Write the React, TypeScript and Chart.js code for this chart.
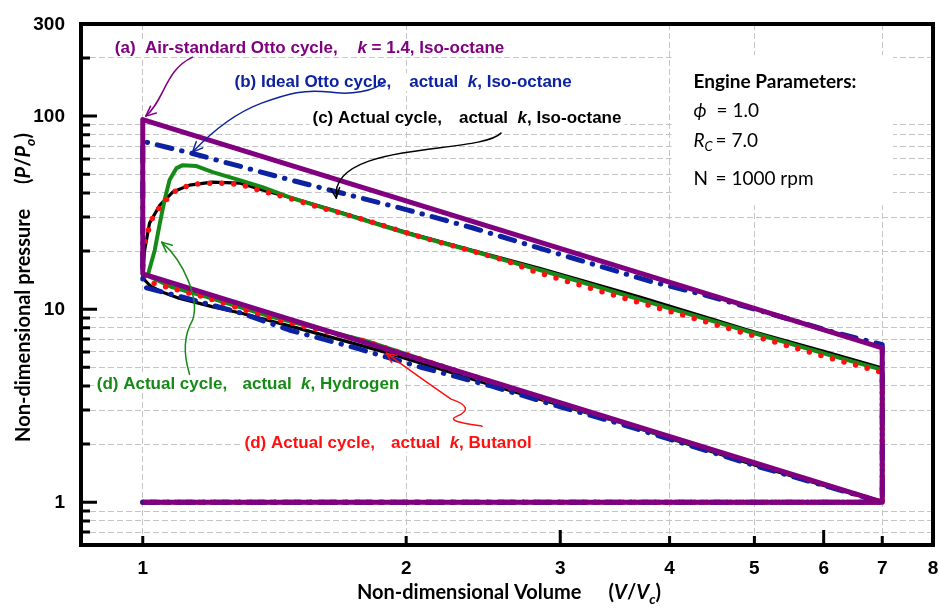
import { useEffect, useRef } from 'react';
import { Chart, registerables } from 'chart.js';

Chart.register(...registerables);

// ---- axes -------------------------------------------------------------
const V_MIN = 0.85;
const V_MAX = 8;
const P_MIN = 0.6;
const P_MAX = 300;

const V_TICKS = [1, 2, 3, 4, 5, 6, 7, 8];
const V_GRID = [1, 2, 4, 5, 7];
const V_MARKS = [1, 2, 3, 4, 5, 6, 7];
const V_LONG_MARKS = [3, 6];

const P_TICKS = [0.7, 0.8, 0.9, 1, 2, 3, 4, 5, 6, 7, 8, 9, 10, 20, 30, 40, 50, 60, 70, 80, 90, 100, 200];
const P_MAJOR = [1, 10, 100];
const P_LABELS = [1, 10, 100, 300];

// ---- cycles (V/Vc, P/Po) ---------------------------------------------
// (a) Air-standard Otto cycle, k = 1.4, iso-octane
const AIR_V = [1, 7, 1, 1, 7, 7, 1];
const AIR_P = [1, 1, 15.24, 96, 6.3, 1, 1];

// (b) Ideal Otto cycle, actual k, iso-octane
const IDEAL_V = [1, 7, 6, 5, 4, 3.5, 3, 2.5, 2.08, 1.75, 1.47, 1.3, 1.13, 1.05, 1.01, 1,
  1, 1.14, 1.3, 1.48, 2, 2.38, 2.81, 3.81, 4.4, 5.2, 6.22, 7, 7, 1];
const IDEAL_P = [1, 1, 1.22, 1.55, 2.12, 2.56, 3.12, 4.0, 5.0, 6.3, 7.8, 9.5, 11.3, 12.3, 12.9, 13.8,
  74, 64, 54.5, 46.5, 32.8, 26.4, 21.0, 13.9, 11.8, 9.5, 7.5, 6.55, 1, 1];

// (c) Actual cycle, actual k, iso-octane
const OCTANE_V = [1, 7, 6, 5, 4, 3.5, 3, 2.5, 2.2, 1.9, 1.7, 1.5, 1.3, 1.2, 1.1, 1.05, 1.02, 1,
  1, 1.005, 1.018, 1.046, 1.082, 1.131, 1.2, 1.29, 1.37, 1.47, 1.65, 2, 2.38, 2.84, 3.69, 5, 6, 7, 7, 1];
const OCTANE_P = [1, 1, 1.22, 1.56, 2.14, 2.6, 3.18, 4.05, 4.85, 5.95, 6.85, 8.0, 9.5, 10.3, 11.4, 12.3, 13.2, 14.5,
  16, 20.2, 27.9, 34.6, 40.4, 43.9, 45.5, 45.0, 41.4, 38.0, 32.6, 25.0, 20.2, 16.3, 11.6, 7.6, 6.05, 4.95, 1, 1];

// (d) Actual cycle, actual k, hydrogen
const H2_V = [1, 7, 6, 5, 4, 3, 2.4, 1.8, 1.4, 1.18, 1.08, 1.013,
  1.032, 1.046, 1.059, 1.073, 1.093, 1.111, 1.152, 1.202, 1.29, 1.37, 1.47, 1.65, 2, 2.38, 3, 4, 5, 6, 7, 7, 1];
const H2_P = [1, 1, 1.24, 1.59, 2.17, 3.24, 4.45, 6.85, 9.15, 11.6, 13.0, 14.9,
  20.2, 27.9, 36.7, 46.6, 53.8, 55.7, 55.1, 51.3, 46.6, 42.9, 38.0, 32.4, 24.8, 20.0, 14.9, 10.1, 7.5, 5.9, 4.85, 1, 1];

// (d) Actual cycle, actual k, butanol
const BUTANOL_V = [1, 7, 6, 5, 4, 3, 2.4, 1.8, 1.4, 1.18, 1.08, 1.03, 1,
  1, 1.01, 1.027, 1.054, 1.093, 1.14, 1.21, 1.29, 1.37, 1.47, 1.6, 1.75, 1.91, 2.08, 2.38, 2.6, 2.81, 3.5, 4, 5, 6, 7, 7, 1];
const BUTANOL_P = [1, 1, 1.23, 1.58, 2.15, 3.2, 4.45, 6.8, 9.0, 11.5, 12.8, 13.6, 15.0,
  20, 24, 30, 35.4, 41.4, 44.4, 45.0, 44.4, 40.8, 37.6, 33.4, 30.0, 26.6, 23.6, 20.0, 17.8, 15.6, 11.6, 9.75, 7.25, 5.7, 4.7, 1, 1];

// ---- colours & fonts --------------------------------------------------
const PURPLE = '#800080';
const BLUE = '#0c22a0';
const GREEN = '#168a16';
const RED = '#ff1010';
const BLACK = '#000000';
const GRID_COLOR = '#c4c4c4';

const SANS = '"Liberation Sans", Arial, sans-serif';
const HUMANIST = 'Lato, "Liberation Sans", sans-serif';

type Run = { t?: string; it?: boolean; sub?: boolean; gap?: number };

// ---- annotations (positions in V/Vc, P/Po) ---------------------------
const CURVE_LABELS: { color: string; p: number; v1: number; g1: string; v2: number; g2: Run[] }[] = [
  { color: PURPLE, p: 225, v1: 0.929, g1: '(a)  Air-standard Otto cycle,', v2: 1.759,
    g2: [{ t: 'k', it: true }, { t: ' = 1.4, Iso-octane' }] },
  { color: BLUE, p: 150, v1: 1.273, g1: '(b) Ideal Otto cycle,', v2: 2.016,
    g2: [{ t: 'actual  ' }, { t: 'k', it: true }, { t: ', Iso-octane' }] },
  { color: BLACK, p: 97, v1: 1.563, g1: '(c) Actual cycle,', v2: 2.298,
    g2: [{ t: 'actual  ' }, { t: 'k', it: true }, { t: ', Iso-octane' }] },
  { color: GREEN, p: 4.09, v1: 0.886, g1: '(d) Actual cycle,', v2: 1.3,
    g2: [{ t: 'actual  ' }, { t: 'k', it: true }, { t: ', Hydrogen' }] },
  { color: RED, p: 2.02, v1: 1.307, g1: '(d) Actual cycle,', v2: 1.922,
    g2: [{ t: 'actual  ' }, { t: 'k', it: true }, { t: ', Butanol' }] },
];

// start point followed by cubic Bezier triples
const ARROWS: { color: string; pts: number[][] }[] = [
  { color: PURPLE, pts: [[1.14, 202], [1.0595, 173.1], [1.0595, 121], [1.008, 100]] },
  { color: BLUE, pts: [[1.893, 151.9], [1.839, 133.2], [1.722, 128.5], [1.634, 133.2],
    [1.53, 138.0], [1.471, 131.6], [1.367, 116.8], [1.273, 103.6], [1.198, 82.6], [1.14, 65.1]] },
  { color: BLACK, pts: [[2.567, 81.6], [2.423, 62.8], [1.634, 75.1], [1.664, 37.6]] },
  { color: GREEN, pts: [[1.131, 4.604], [1.111, 5.986], [1.114, 7.334], [1.14, 8.77],
    [1.1614, 11.13], [1.117, 17.52], [1.051, 22.24]] },
  { color: RED, pts: [[2.442, 2.476], [2.36, 2.536], [2.21, 2.629], [2.287, 2.79],
    [2.36, 2.961], [2.36, 3.181], [2.251, 3.418], [2.125, 4.087], [1.989, 5.067], [1.898, 5.916]] },
];

const ENGINE_BOX_V = [4.02, 7.2];
const ENGINE_BOX_P = [207, 34.6];
const ENGINE_TEXT_V = 4.26;
const ENGINE_LINE_P = [150, 106, 74.2, 47.2];

const X_TITLE: Run[] = [{ t: 'Non-dimensional Volume' }, { gap: 27 }, { t: '(' }, { t: 'V', it: true },
  { t: '/' }, { t: 'V', it: true }, { t: 'c', it: true, sub: true }, { t: ')' }];
const Y_TITLE: Run[] = [{ t: 'Non-dimensional pressure' }, { gap: 25 }, { t: '(' }, { t: 'P', it: true },
  { t: '/' }, { t: 'P', it: true }, { t: 'o', it: true, sub: true }, { t: ')' }];

// ---- text helpers -----------------------------------------------------
function fontFor(r: Run, size: number, weight: string, family: string) {
  const s = r.sub ? Math.round(size * 0.7) : size;
  return `${r.it ? 'italic ' : ''}${weight} ${s}px ${family}`;
}

function runsWidth(ctx: CanvasRenderingContext2D, runs: Run[], size: number, weight: string, family: string) {
  let w = 0;
  for (const r of runs) {
    if (r.gap) { w += r.gap; continue; }
    ctx.font = fontFor(r, size, weight, family);
    w += ctx.measureText(r.t || '').width;
  }
  return w;
}

function drawRuns(ctx: CanvasRenderingContext2D, runs: Run[], x: number, y: number,
  size: number, weight: string, family: string, color: string) {
  let cx = x;
  ctx.fillStyle = color;
  ctx.textAlign = 'left';
  ctx.textBaseline = 'middle';
  for (const r of runs) {
    if (r.gap) { cx += r.gap; continue; }
    ctx.font = fontFor(r, size, weight, family);
    ctx.fillText(r.t || '', cx, r.sub ? y + size * 0.32 : y);
    cx += ctx.measureText(r.t || '').width;
  }
  return cx;
}

const pairs = (vs: number[], ps: number[]) => vs.map((v, i) => ({ x: v, y: ps[i] }));

// ---- decorations: frame, inward ticks, labels, arrows -----------------
const decorPlugin = {
  id: 'pvDecor',
  afterDraw(chart: any) {
    const ctx: CanvasRenderingContext2D = chart.ctx;
    const xs = chart.scales.x;
    const ys = chart.scales.y;
    const X = (v: number) => xs.getPixelForValue(v);
    const Y = (p: number) => ys.getPixelForValue(p);
    const { left, right, top, bottom } = chart.chartArea;

    ctx.save();

    // engine-parameter panel
    ctx.fillStyle = '#ffffff';
    ctx.fillRect(X(ENGINE_BOX_V[0]), Y(ENGINE_BOX_P[0]),
      X(ENGINE_BOX_V[1]) - X(ENGINE_BOX_V[0]), Y(ENGINE_BOX_P[1]) - Y(ENGINE_BOX_P[0]));

    // curve labels on white panels
    for (const L of CURVE_LABELS) {
      const y = Y(L.p);
      const x1 = X(L.v1);
      const x2 = X(L.v2);
      const w2 = runsWidth(ctx, L.g2, 17, 'bold', SANS);
      ctx.fillStyle = '#ffffff';
      ctx.fillRect(x1 - 3, y - 9, x2 + w2 - x1 + 6, 18);
      drawRuns(ctx, [{ t: L.g1 }], x1, y, 17, 'bold', SANS, L.color);
      drawRuns(ctx, L.g2, x2, y, 17, 'bold', SANS, L.color);
    }

    // pointer arrows
    for (const A of ARROWS) {
      const pts = A.pts.map(([v, p]) => [X(v), Y(p)]);
      ctx.strokeStyle = A.color;
      ctx.lineWidth = 1.5;
      ctx.lineCap = 'round';
      ctx.lineJoin = 'round';
      ctx.beginPath();
      ctx.moveTo(pts[0][0], pts[0][1]);
      for (let i = 1; i + 2 < pts.length; i += 3) {
        ctx.bezierCurveTo(pts[i][0], pts[i][1], pts[i + 1][0], pts[i + 1][1], pts[i + 2][0], pts[i + 2][1]);
      }
      ctx.stroke();
      const tip = pts[pts.length - 1];
      const from = pts[pts.length - 2];
      const ang = Math.atan2(tip[1] - from[1], tip[0] - from[0]);
      const len = 11;
      const spread = 0.42;
      ctx.beginPath();
      ctx.moveTo(tip[0] - len * Math.cos(ang - spread), tip[1] - len * Math.sin(ang - spread));
      ctx.lineTo(tip[0], tip[1]);
      ctx.lineTo(tip[0] - len * Math.cos(ang + spread), tip[1] - len * Math.sin(ang + spread));
      ctx.stroke();
    }

    // engine parameters
    const ex = X(ENGINE_TEXT_V);
    drawRuns(ctx, [{ t: 'Engine Parameters:' }], ex, Y(ENGINE_LINE_P[0]), 19, 'bold', HUMANIST, BLACK);
    drawRuns(ctx, [{ t: '\u03d5', it: true }], ex, Y(ENGINE_LINE_P[1]), 19, 'normal', HUMANIST, BLACK);
    drawRuns(ctx, [{ t: '= 1.0' }], ex + 23, Y(ENGINE_LINE_P[1]), 19, 'normal', HUMANIST, BLACK);
    drawRuns(ctx, [{ t: 'R', it: true }, { t: 'C', it: true, sub: true }], ex, Y(ENGINE_LINE_P[2]), 19, 'normal', HUMANIST, BLACK);
    drawRuns(ctx, [{ t: '= 7.0' }], ex + 22, Y(ENGINE_LINE_P[2]), 19, 'normal', HUMANIST, BLACK);
    drawRuns(ctx, [{ t: 'N' }], ex, Y(ENGINE_LINE_P[3]), 19, 'normal', HUMANIST, BLACK);
    drawRuns(ctx, [{ t: '= 1000 rpm' }], ex + 22, Y(ENGINE_LINE_P[3]), 19, 'normal', HUMANIST, BLACK);

    // frame
    ctx.strokeStyle = BLACK;
    ctx.lineWidth = 4;
    ctx.lineJoin = 'miter';
    ctx.lineCap = 'butt';
    ctx.strokeRect(left, top, right - left, bottom - top);

    // inward tick marks
    ctx.lineWidth = 3;
    ctx.beginPath();
    for (const p of P_TICKS) {
      const len = P_MAJOR.includes(p) ? 16 : 9;
      ctx.moveTo(left, Y(p));
      ctx.lineTo(left + len, Y(p));
    }
    for (const v of V_MARKS) {
      const len = V_LONG_MARKS.includes(v) ? 15 : 9;
      ctx.moveTo(X(v), bottom);
      ctx.lineTo(X(v), bottom - len);
    }
    ctx.stroke();

    // tick labels
    ctx.fillStyle = BLACK;
    ctx.font = `bold 19px ${SANS}`;
    ctx.textBaseline = 'middle';
    ctx.textAlign = 'right';
    for (const p of P_LABELS) ctx.fillText(String(p), left - 16, Y(p) + 1);
    ctx.textAlign = 'center';
    for (const v of V_TICKS) ctx.fillText(String(v), X(v), bottom + 24);

    // axis titles
    const xw = runsWidth(ctx, X_TITLE, 20, 'bold', HUMANIST);
    drawRuns(ctx, X_TITLE, (left + right) / 2 + 2 - xw / 2, bottom + 48, 20, 'bold', HUMANIST, BLACK);
    const yw = runsWidth(ctx, Y_TITLE, 20, 'bold', HUMANIST);
    ctx.save();
    ctx.translate(left - 57, (top + bottom) / 2 + 3);
    ctx.rotate(-Math.PI / 2);
    drawRuns(ctx, Y_TITLE, -yw / 2, 0, 20, 'bold', HUMANIST, BLACK);
    ctx.restore();

    ctx.restore();
  },
};

function lineSet(data: { x: number; y: number }[], color: string, width: number, extra: any = {}) {
  return {
    data,
    showLine: true,
    borderColor: color,
    backgroundColor: color,
    borderWidth: width,
    pointRadius: 0,
    pointHoverRadius: 0,
    fill: false,
    tension: 0,
    borderJoinStyle: 'round',
    ...extra,
  };
}

export default function App() {
  const canvasRef = useRef<HTMLCanvasElement>(null);

  useEffect(() => {
    const canvas = canvasRef.current;
    if (!canvas) return;
    const chart = new Chart(canvas, {
      type: 'scatter',
      data: {
        datasets: [
          lineSet(pairs(AIR_V, AIR_P), PURPLE, 5),
          lineSet(pairs(IDEAL_V, IDEAL_P), BLUE, 5, { borderDash: [15, 10, 0.5, 10], borderCapStyle: 'round' }),
          lineSet(pairs(BUTANOL_V, BUTANOL_P), RED, 5.5, { borderDash: [0, 12], borderCapStyle: 'round' }),
          lineSet(pairs(H2_V, H2_P), GREEN, 4),
          lineSet(pairs(OCTANE_V, OCTANE_P), BLACK, 3.2),
        ] as any,
      },
      options: {
        animation: false,
        responsive: false,
        devicePixelRatio: 1,
        events: [],
        layout: { padding: { left: 81, top: 24, right: 7, bottom: 63 } },
        plugins: { legend: { display: false }, tooltip: { enabled: false } },
        scales: {
          x: {
            type: 'logarithmic',
            min: V_MIN,
            max: V_MAX,
            afterBuildTicks: (s: any) => { s.ticks = V_TICKS.map((value) => ({ value })); },
            ticks: { display: false, padding: 0 },
            grid: {
              drawTicks: false,
              lineWidth: 1,
              color: (c: any) => (c.tick && V_GRID.includes(c.tick.value) ? GRID_COLOR : 'rgba(0,0,0,0)'),
            },
            border: { display: false, dash: [6, 3] },
          },
          y: {
            type: 'logarithmic',
            min: P_MIN,
            max: P_MAX,
            afterBuildTicks: (s: any) => { s.ticks = P_TICKS.map((value) => ({ value })); },
            ticks: { display: false, padding: 0 },
            grid: {
              drawTicks: false,
              lineWidth: 1,
              color: (c: any) => (c.tick && !P_MAJOR.includes(c.tick.value) ? GRID_COLOR : 'rgba(0,0,0,0)'),
            },
            border: { display: false, dash: [6, 3] },
          },
        },
      } as any,
      plugins: [decorPlugin],
    });
    return () => chart.destroy();
  }, []);

  return (
    <div style={{ position: 'absolute', left: 0, top: 0, width: 940, height: 608, background: '#ffffff' }}>
      <canvas ref={canvasRef} width={940} height={608} style={{ display: 'block' }} />
    </div>
  );
}
